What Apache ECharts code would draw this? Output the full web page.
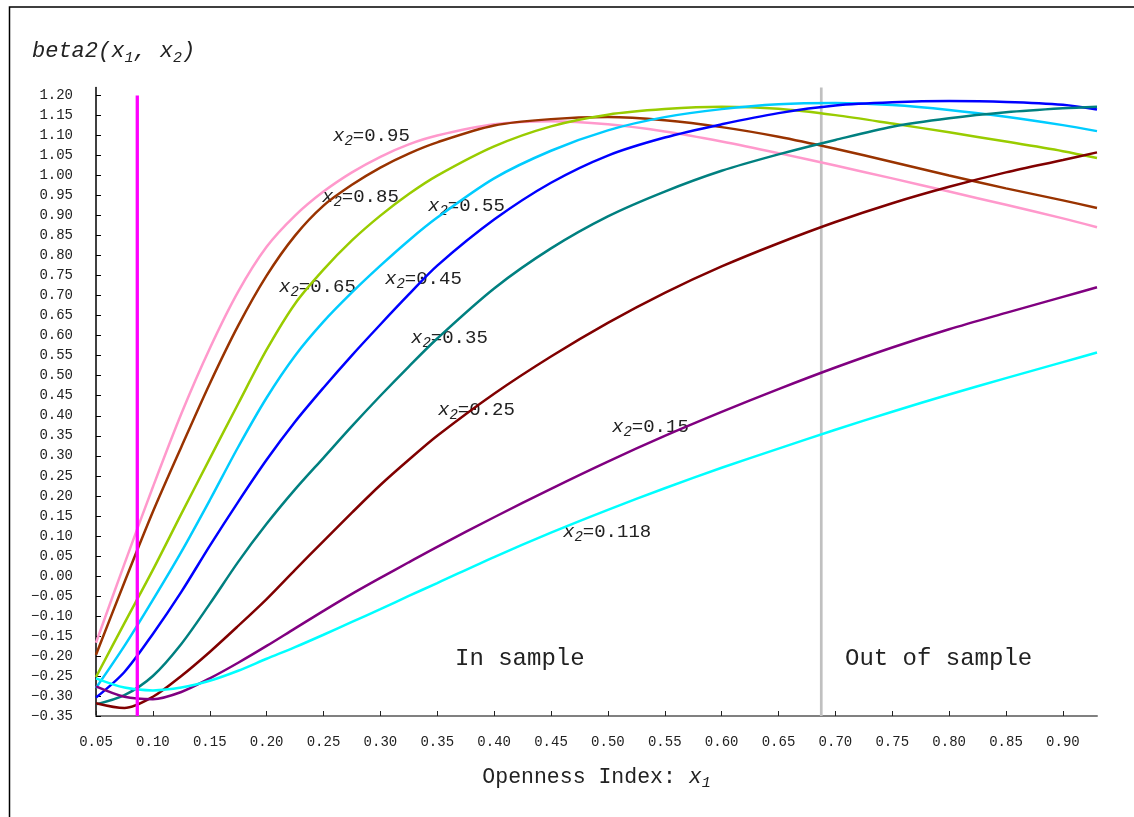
<!DOCTYPE html>
<html>
<head>
<meta charset="utf-8">
<script src="https://cdn.jsdelivr.net/npm/echarts@6/dist/echarts.min.js"></script>
<style>
  html, body { margin: 0; padding: 0; background: #fff; }
  #chart { width: 1134px; height: 817px; }
</style>
</head>
<body>
<div id="chart"></div>
<script>
// openness index x1 at which every curve was read
var xValues = [0.05, 0.075, 0.10, 0.125, 0.15, 0.175, 0.20, 0.225, 0.25, 0.275, 0.30, 0.325, 0.35,
  0.40, 0.45, 0.50, 0.55, 0.60, 0.65, 0.70, 0.75, 0.80, 0.85, 0.90, 0.93];

// beta2(x1, x2) for each x2
var beta095 = [-0.167, 0.03, 0.222, 0.405, 0.568, 0.71, 0.822, 0.90, 0.96, 1.008, 1.047, 1.078, 1.10,
  1.128, 1.136, 1.128, 1.11, 1.085, 1.056, 1.025, 0.993, 0.96, 0.927, 0.893, 0.871];
var beta085 = [-0.197, -0.016, 0.16, 0.322, 0.48, 0.625, 0.75, 0.85, 0.925, 0.977, 1.02, 1.055, 1.083,
  1.125, 1.141, 1.146, 1.138, 1.121, 1.097, 1.067, 1.034, 1.0, 0.968, 0.938, 0.919];
var beta065 = [-0.2525, -0.118, 0.015, 0.155, 0.293, 0.43, 0.565, 0.68, 0.765, 0.838, 0.9, 0.954, 1.0,
  1.073, 1.123, 1.152, 1.166, 1.172, 1.167, 1.151, 1.13, 1.108, 1.085, 1.061, 1.044];
var beta055 = [-0.28, -0.175, -0.06, 0.06, 0.189, 0.322, 0.445, 0.55, 0.635, 0.708, 0.775, 0.838, 0.895,
  0.993, 1.062, 1.113, 1.146, 1.166, 1.178, 1.181, 1.176, 1.164, 1.147, 1.126, 1.111];
var beta045 = [-0.304, -0.24, -0.145, -0.04, 0.075, 0.185, 0.29, 0.385, 0.47, 0.551, 0.628, 0.703, 0.775,
  0.89, 0.982, 1.05, 1.095, 1.128, 1.156, 1.175, 1.183, 1.186, 1.184, 1.177, 1.165];
var beta035 = [-0.321, -0.298, -0.25, -0.17, -0.07, 0.035, 0.13, 0.216, 0.295, 0.374, 0.45, 0.523, 0.593,
  0.718, 0.818, 0.898, 0.96, 1.012, 1.053, 1.089, 1.122, 1.143, 1.158, 1.168, 1.172];
var beta025 = [-0.318, -0.33, -0.302, -0.25, -0.19, -0.125, -0.058, 0.015, 0.087, 0.158, 0.227, 0.29, 0.35,
  0.455, 0.548, 0.632, 0.707, 0.773, 0.831, 0.884, 0.931, 0.972, 1.008, 1.039, 1.058];
var beta015 = [-0.276, -0.302, -0.308, -0.29, -0.256, -0.217, -0.175, -0.131, -0.0875, -0.045, -0.005, 0.034, 0.0725,
  0.1465, 0.2175, 0.2855, 0.3495, 0.4095, 0.4665, 0.5205, 0.5705, 0.616, 0.657, 0.697, 0.721];
var beta0118 = [-0.256, -0.279, -0.286, -0.279, -0.262, -0.237, -0.207, -0.178, -0.147, -0.115, -0.083, -0.05, -0.018,
  0.047, 0.108, 0.165, 0.219, 0.27, 0.318, 0.365, 0.41, 0.453, 0.494, 0.534, 0.558];

var curveLabels = ['0.95', '0.85', '0.65', '0.55', '0.45', '0.35', '0.25', '0.15', '0.118'];
var curveData = [beta095, beta085, beta065, beta055, beta045, beta035, beta025, beta015, beta0118];
var curveColors = ['#FF99CC', '#993300', '#99CC00', '#00CCFF', '#0000FF', '#008080', '#800000', '#800080', '#00FFFF'];

var xTickValues = [0.05, 0.10, 0.15, 0.20, 0.25, 0.30, 0.35, 0.40, 0.45, 0.50, 0.55,
  0.60, 0.65, 0.70, 0.75, 0.80, 0.85, 0.90];
var yTickValues = [-0.35, -0.30, -0.25, -0.20, -0.15, -0.10, -0.05, 0.00, 0.05, 0.10, 0.15,
  0.20, 0.25, 0.30, 0.35, 0.40, 0.45, 0.50, 0.55, 0.60, 0.65, 0.70, 0.75, 0.80, 0.85,
  0.90, 0.95, 1.00, 1.05, 1.10, 1.15, 1.20];

// vertical markers
var markerX = 0.0863;      // magenta line
var sampleEndX = 0.6876;   // in sample / out of sample
var markerTop = 1.20;

var mono = '"Liberation Mono", "DejaVu Sans Mono", monospace';

var chart = echarts.init(document.getElementById('chart'));

function fmt(v) {
  return v.toFixed(2).replace('-', '\u2212');
}

var series = [];
series.push({
  type: 'line',
  data: [[sampleEndX, -0.35], [sampleEndX, 1.22]],
  symbol: 'none',
  silent: true,
  z: 1,
  lineStyle: { color: '#C0C0C0', width: 2.7 }
});
curveData.forEach(function (vals, i) {
  series.push({
    name: 'x2=' + curveLabels[i],
    type: 'line',
    smooth: 0.3,
    symbol: 'none',
    z: 2,
    lineStyle: { color: curveColors[i], width: 2.5 },
    data: xValues.map(function (x, j) { return [x, vals[j]]; })
  });
});
series.push({
  type: 'line',
  data: [[markerX, -0.35], [markerX, markerTop]],
  symbol: 'none',
  silent: true,
  z: 3,
  lineStyle: { color: '#FF00FF', width: 3.3 }
});

// label positions in pixels: [left, center y]
var labelPos = [[333, 139], [322, 200], [279, 290], [428, 209], [385, 282], [411, 341], [438, 413], [612, 430], [563, 535]];

function subText(pre, sub, post, size, subSize) {
  return {
    text: '{x|' + pre + '}{s|' + sub + '}{n|' + post + '}',
    rich: {
      x: { fontFamily: mono, fontSize: size, fontStyle: 'italic', lineHeight: size + 6, fill: '#222' },
      s: { fontFamily: mono, fontSize: subSize, fontStyle: 'italic', lineHeight: subSize + 2, verticalAlign: 'bottom', fill: '#222' },
      n: { fontFamily: mono, fontSize: size, lineHeight: size + 6, fill: '#222' }
    }
  };
}

var graphics = [
  {
    type: 'rect', left: 7, top: 4.5, silent: true,
    shape: { width: 1300, height: 1000 },
    style: { fill: 'none', stroke: '#000', lineWidth: 1.5 }
  },
  {
    type: 'text', left: 32, top: 40,
    style: {
      text: '{a|beta2(x}{s|1}{a|, x}{s|2}{a|)}',
      rich: {
        a: { fontFamily: mono, fontSize: 22, fontStyle: 'italic', lineHeight: 30, fill: '#222' },
        s: { fontFamily: mono, fontSize: 15, fontStyle: 'italic', lineHeight: 17, verticalAlign: 'bottom', fill: '#222' }
      }
    }
  },
  {
    type: 'text', left: 455, top: 647,
    style: { text: 'In sample', fontFamily: mono, fontSize: 24, fill: '#222' }
  },
  {
    type: 'text', left: 845, top: 647,
    style: { text: 'Out of sample', fontFamily: mono, fontSize: 24, fill: '#222' }
  }
];
curveLabels.forEach(function (lab, i) {
  var st = subText('x', '2', '=' + lab, 19, 14);
  graphics.push({
    type: 'text', left: labelPos[i][0], top: labelPos[i][1] - 12.5,
    style: st
  });
});

var option = {
  animation: false,
  backgroundColor: '#fff',
  grid: { left: 96, right: 37, top: 87.5, bottom: 101 },
  xAxis: {
    type: 'value',
    min: 0.05,
    max: 0.93,
    name: '{n|Openness Index: }{x|x}{s|1}',
    nameLocation: 'middle',
    nameGap: 47,
    nameTextStyle: {
      rich: {
        n: { fontFamily: mono, fontSize: 21.5, color: '#222', lineHeight: 28 },
        x: { fontFamily: mono, fontSize: 21.5, fontStyle: 'italic', color: '#222', lineHeight: 28 },
        s: { fontFamily: mono, fontSize: 15, fontStyle: 'italic', color: '#222', lineHeight: 16, verticalAlign: 'bottom' }
      }
    },
    axisLine: { onZero: false, lineStyle: { color: '#808080', width: 2 } },
    axisTick: { inside: true, length: 5, customValues: xTickValues, lineStyle: { color: '#222', width: 1 } },
    axisLabel: {
      customValues: xTickValues,
      margin: 19,
      fontFamily: mono,
      fontSize: 14,
      color: '#222',
      formatter: fmt
    },
    splitLine: { show: false }
  },
  yAxis: {
    type: 'value',
    min: -0.35,
    max: 1.22,
    axisLine: { onZero: false, lineStyle: { color: '#000', width: 1.5 } },
    axisTick: { inside: true, length: 5, customValues: yTickValues, lineStyle: { color: '#000', width: 1 } },
    axisLabel: {
      customValues: yTickValues,
      margin: 23,
      fontFamily: mono,
      fontSize: 14,
      color: '#222',
      formatter: fmt
    },
    splitLine: { show: false }
  },
  graphic: graphics,
  series: series
};

chart.setOption(option);
</script>
</body>
</html>
